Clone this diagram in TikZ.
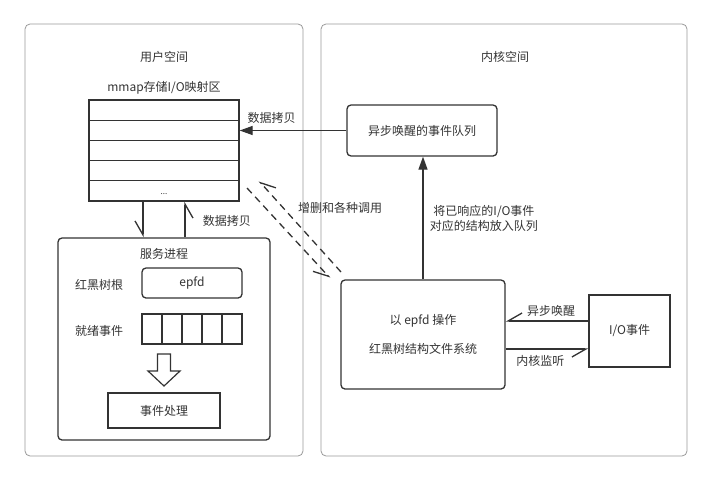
\documentclass[tikz,border=0pt]{standalone}
\usepackage{fontspec}
\setmainfont{Noto Sans CJK SC}
\usetikzlibrary{arrows.meta,positioning}
\definecolor{panelgray}{HTML}{999999}
\definecolor{ink}{HTML}{333333}
\begin{document}
\begin{tikzpicture}[x=1pt,y=-1pt,font=\fontsize{12}{15}\selectfont,text=ink]
  \tikzstyle{panel}=[draw=panelgray,line width=0.8pt,rounded corners=5pt,inner sep=0pt]
  \tikzstyle{box}=[draw=ink,line width=1.3pt,inner sep=0pt]
  \tikzstyle{rbox}=[box,rounded corners=4pt]
  \tikzstyle{row}=[box,minimum width=150pt,minimum height=20.2pt]
  \tikzstyle{cell}=[box,minimum width=20pt,minimum height=30pt]
  \tikzstyle{fullarr}=[draw=ink,line width=1.3pt,-{Triangle[length=13pt,width=9pt]}]
  \tikzstyle{halfarr}=[draw=ink,line width=1.3pt,-{Straight Barb[harpoon,swap,length=14pt,width=16pt]}]
  \useasboundingbox (0,0) rectangle (711,482);
  \node[panel,minimum width=278pt,minimum height=432pt] (user) at (164,240) {};
  \node[panel,minimum width=366pt,minimum height=432pt] (kernel) at (504,240) {};
  \node (userlbl) at (164,57) {用户空间};
  \node (kernellbl) at (505,57) {内核空间};
  \foreach \i in {1,...,5}
    \node[row] (r\i) at (164,{89.9+20.2*\i}) {};
  \node[font=\fontsize{8}{8}\selectfont] (dots) at ([yshift=-3pt]r5) {...};
  \node[above=2pt of r1] (mmaplbl) {mmap存储I/O映射区};
  \node[rbox,minimum width=212pt,minimum height=202pt] (svc) at (164,339) {};
  \node (svclbl) at (164,254) {服务进程};
  \node (rootlbl) at (99,285) {红黑树根};
  \node[rbox,minimum width=100pt,minimum height=30pt] (epfd) at (192,283) {epfd};
  \node (readylbl) at (99,331) {就绪事件};
  \foreach \i in {1,...,5}
    \node[cell] (c\i) at ({132+20*\i},329) {};
  \draw[draw=ink,line width=1.2pt] (157.5,354) -- (170.5,354) -- (170.5,371) -- (180,371)
    -- (164,386) -- (148,371) -- (157.5,371) -- cycle;
  \node[box,minimum width=112pt,minimum height=35pt] (handle) at (164,410.5) {事件处理};
  \node[rbox,minimum width=150pt,minimum height=51pt] (queue) at (422,130.5) {异步唤醒的事件队列};
  \node[rbox,minimum width=164pt,minimum height=109pt,align=center] (epoll) at (423,334.5)
    {以 epfd 操作\\[14pt]红黑树结构文件系统};
  \node[box,minimum width=81pt,minimum height=72pt] (io) at (629.5,331) {I/O事件};
  \draw[halfarr] ([xshift=-21pt]r5.south) -- ([xshift=-21pt]svc.north);
  \draw[halfarr] ([xshift=21pt]svc.north) -- ([xshift=21pt]r5.south)
    node[pos=0.45,right=14pt] {数据拷贝};
  \draw[fullarr] (queue.west) -- (queue.west -| r2.east) node[pos=0.7,above=3pt] {数据拷贝};
  \draw[fullarr] (epoll.north) -- (epoll.north |- queue.south)
    node[midway,right=3pt,align=center] {将已响应的I/O事件\\对应的结构放入队列};
  \draw[halfarr] ([yshift=10pt]io.west) -- ([yshift=10pt]io.west -| epoll.east)
    node[pos=0.45,above=1pt] {异步唤醒};
  \draw[halfarr] ([yshift=-18pt]io.west -| epoll.east) -- ([yshift=-18pt]io.west)
    node[pos=0.42,below=2pt] {内核监听};
  \coordinate (callfrom) at (247,188);
  \coordinate (callto) at (330,278);
  \coordinate (backfrom) at (341,272);
  \coordinate (backto) at (259,181);
  \draw[halfarr,dash pattern=on 7pt off 5pt] (callfrom) -- (callto);
  \draw[halfarr,dash pattern=on 7pt off 5pt] (backfrom) -- (backto);
  \node (calllbl) at (340,208) {增删和各种调用};
\end{tikzpicture}
\end{document}
